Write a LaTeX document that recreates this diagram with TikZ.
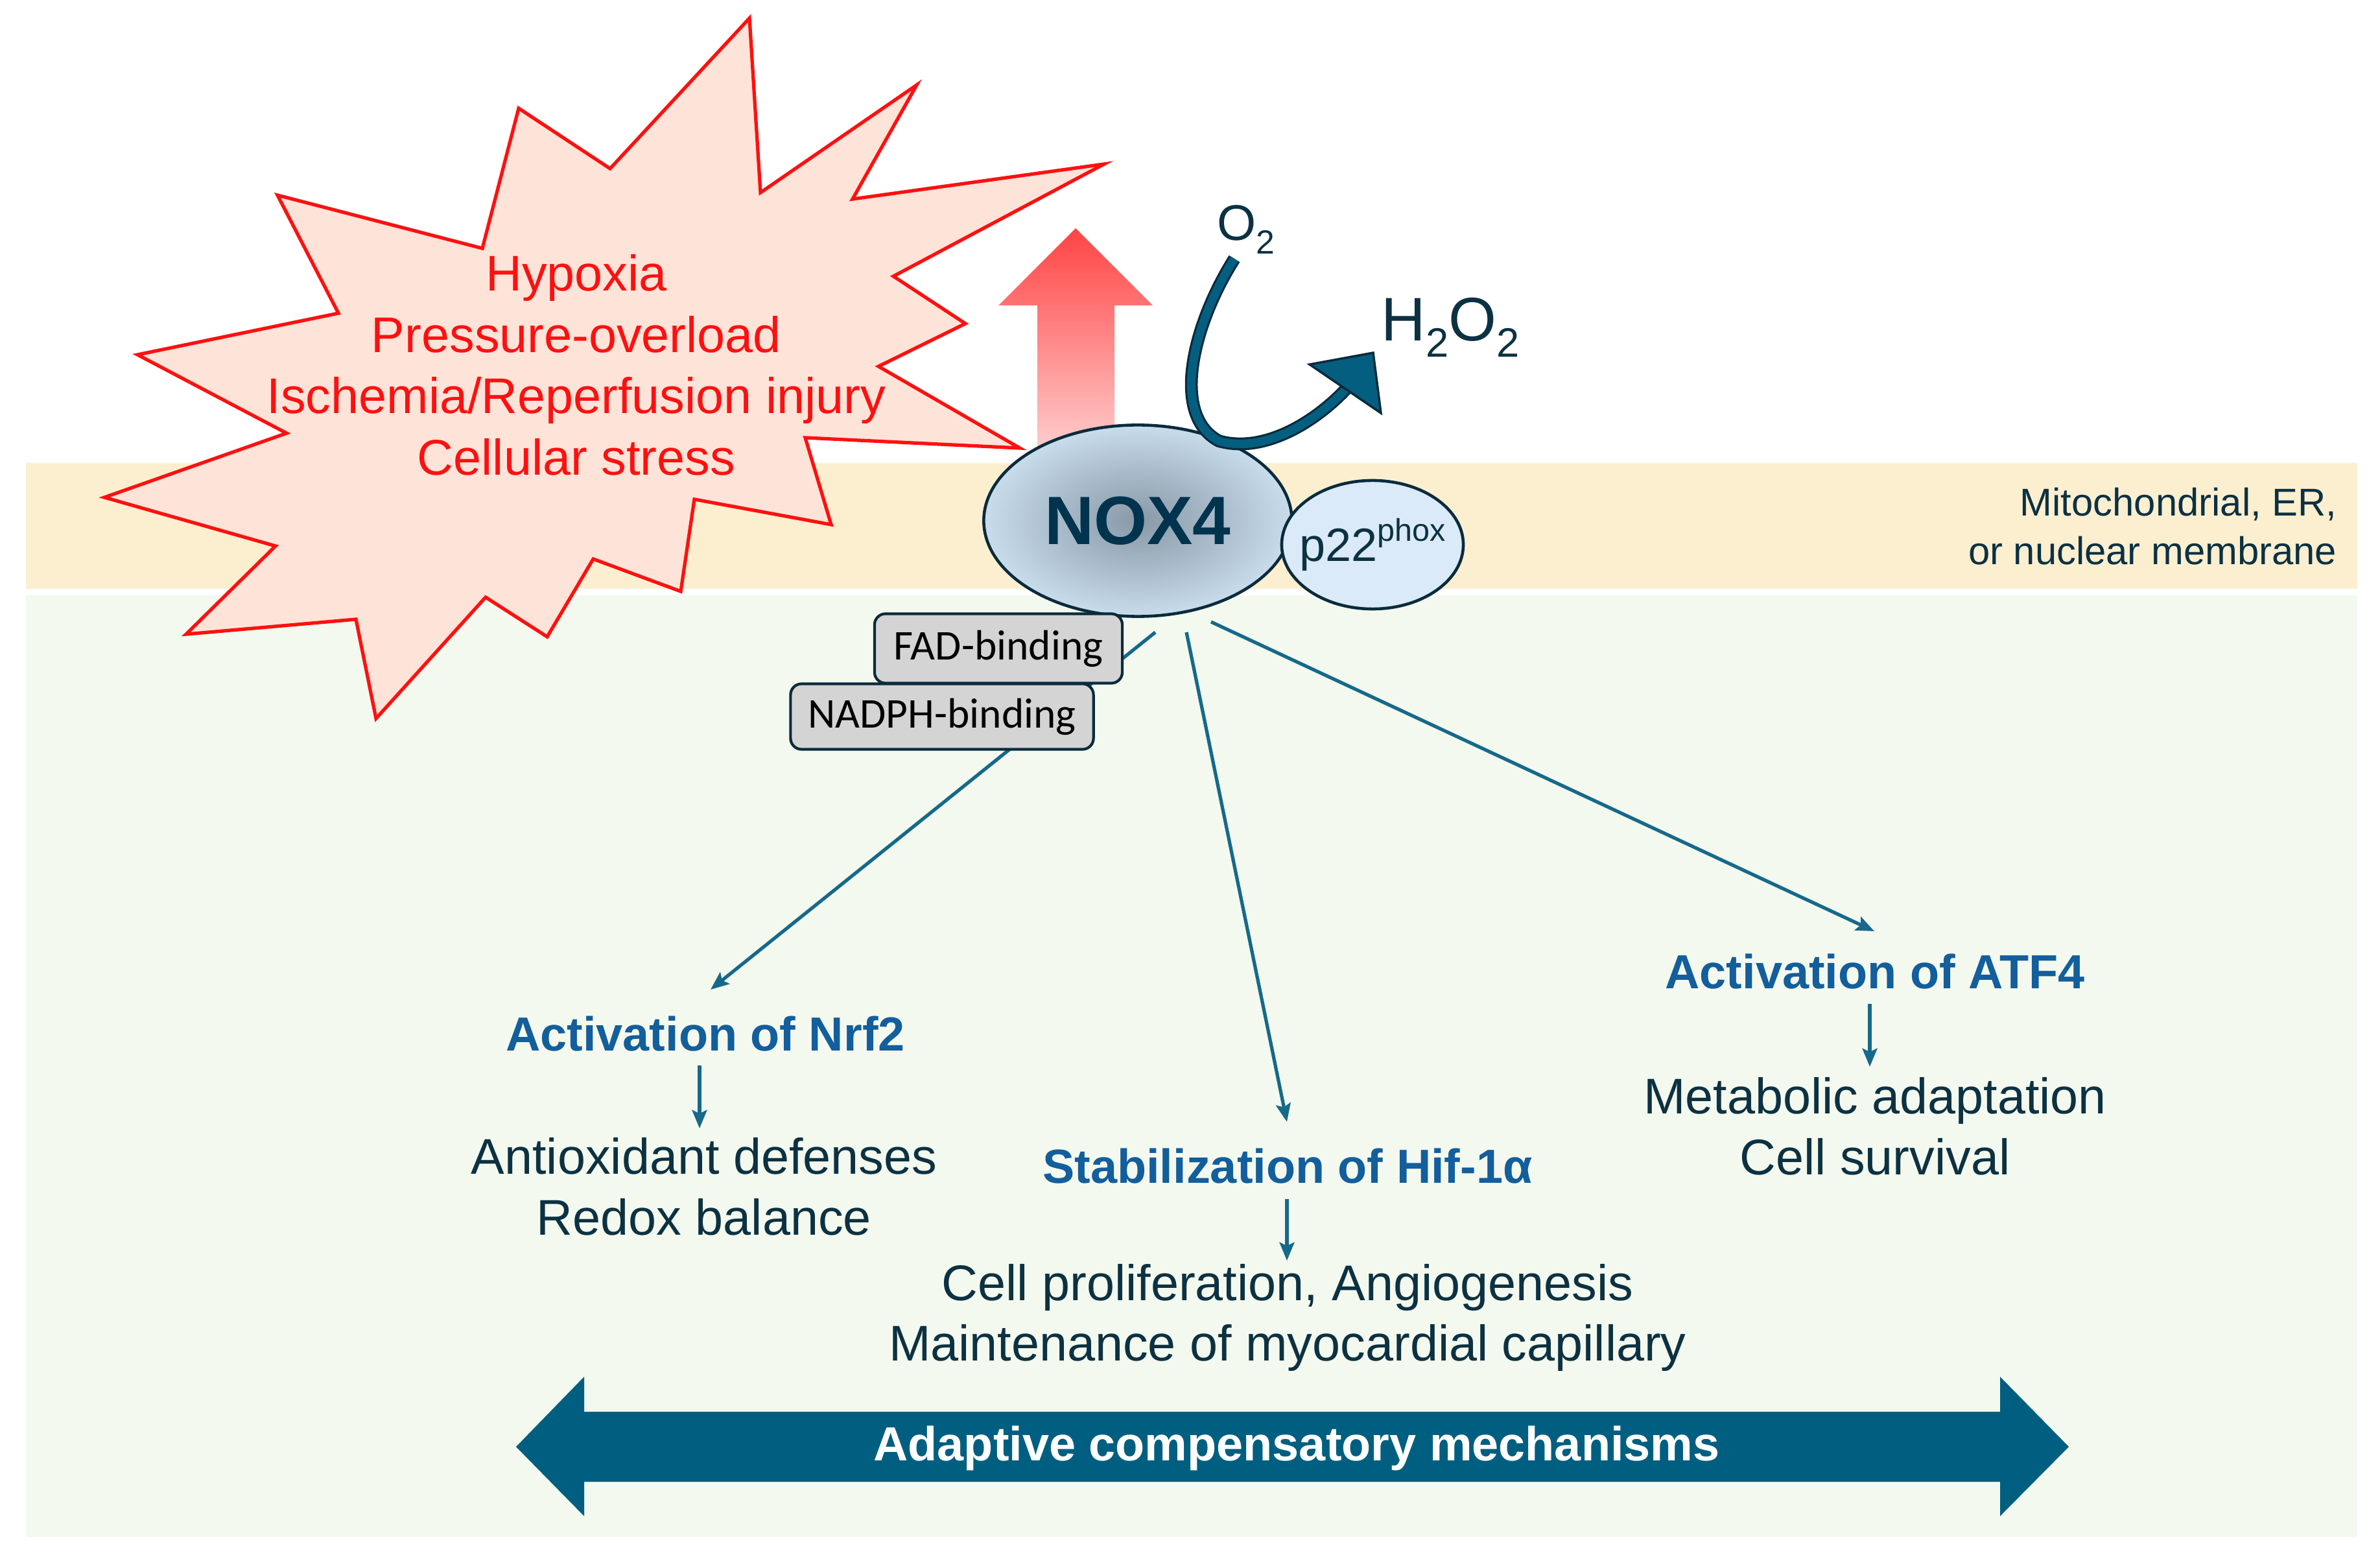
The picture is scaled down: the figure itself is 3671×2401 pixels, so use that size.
\documentclass[tikz,border=0pt]{standalone}
\usepackage{fontspec}
\setmainfont{Liberation Sans}
\newfontfamily\calib{Carlito}
\usetikzlibrary{shapes.geometric,arrows.meta}
\definecolor{beige}{HTML}{FCEFD0}
\definecolor{lgreen}{HTML}{F3F9EE}
\definecolor{starfill}{HTML}{FEE3D8}
\definecolor{starline}{HTML}{FF1010}
\definecolor{tealline}{HTML}{16698A}
\definecolor{bluetxt}{HTML}{135E9C}
\definecolor{darktxt}{HTML}{0C3142}
\definecolor{navy}{HTML}{0A2B3C}
\definecolor{bigarrow}{HTML}{005F80}
\definecolor{o2teal}{HTML}{045E80}
\definecolor{noxtxt}{HTML}{00334D}
\definecolor{noxin}{HTML}{8898A6}
\definecolor{noxout}{HTML}{C8DCEC}
\definecolor{p22fill}{HTML}{DAEAF8}
\definecolor{boxfill}{HTML}{D4D4D4}
\pgfdeclareverticalshading{redgrad}{100bp}{rgb(0bp)=(1,0.97,0.97); rgb(15bp)=(1,0.9,0.9); rgb(100bp)=(1,0,0)}
\begin{document}
\begin{tikzpicture}[x=0.01cm,y=-0.01cm,
  conn/.style={tealline, line width=1.5pt, -{Stealth[length=8pt,width=6.5pt,inset=1.5pt]}},
  redtxt/.style={text=starline, align=center, inner sep=0, font=\fontsize{22}{26.9}\selectfont},
  bluelab/.style={text=bluetxt, inner sep=0, font=\fontsize{21}{25}\selectfont\bfseries},
  darklab/.style={text=darktxt, align=center, inner sep=0, font=\fontsize{22}{26.7}\selectfont},
  dombox/.style={draw=navy, line width=1.2pt, fill=boxfill, rounded corners=0.17cm, inner sep=0,
    font=\calib\fontsize{18.6}{22}\selectfont, text=black}]
\useasboundingbox (0,0) rectangle (3671,2401);
\fill[white] (0,0) rectangle (3671,2401);
% membrane and cytosol bands
\fill[beige] (40,714) rectangle (3636,908);
\fill[lgreen] (40,918) rectangle (3636,2370);
% stress starburst
\draw[starline, line width=1.5pt, fill=starfill, line join=miter]
  (1156,28) -- (1173,297) -- (1414,131) -- (1315,307) -- (1703,253) -- (1378,426)
  -- (1489,499) -- (1355,565) -- (1573,691) -- (1242,675) -- (1282,809) -- (1071,770)
  -- (1050,912) -- (915,862) -- (844,982) -- (749,921) -- (580,1108) -- (549,955)
  -- (287,978) -- (425,842) -- (161,767) -- (442,668) -- (212,547) -- (522,483)
  -- (428,301) -- (744,383) -- (800,167) -- (941,260) -- cycle;
\node[redtxt] (stress) at (889,563) {Hypoxia\\Pressure-overload\\Ischemia/Reperfusion injury\\Cellular stress};
% red upward arrow
\shade[shading=redgrad] (1600,690) -- (1600,471) -- (1540,471) -- (1659,352) -- (1778,471) -- (1719,471) -- (1719,690) -- cycle;
% connectors from NOX4
\coordinate (s1) at (1782,975);
\coordinate (s2) at (1830,975);
\coordinate (s3) at (1868,959);
\coordinate (e1) at (1096,1526);
\coordinate (e2) at (1985,1730);
\coordinate (e3) at (2891,1436);
\draw[conn] (s1) -- (e1);
\draw[conn] (s2) -- (e2);
\draw[conn] (s3) -- (e3);
% NOX4 and p22phox
\node[ellipse, draw=navy, line width=1.3pt, inner color=noxin, outer color=noxout,
  minimum width=4.75cm, minimum height=2.95cm, inner sep=0,
  font=\fontsize{30}{36}\selectfont\bfseries, text=noxtxt] (nox) at (1755,803) {\makebox[0pt]{NOX4}};
\node[ellipse, draw=navy, line width=1.3pt, fill=p22fill,
  minimum width=2.8cm, minimum height=1.98cm, inner sep=0,
  font=\fontsize{20.5}{24}\selectfont, text=darktxt] (p22) at (2117,840)
  {\makebox[0pt]{p22\raisebox{0.42em}{\fontsize{13.8}{16}\selectfont phox}}};
% binding domains
\node[dombox, minimum width=3.82cm, minimum height=1.07cm] (fad) at (1540,1000) {FAD-binding};
\node[dombox, minimum width=4.67cm, minimum height=1.01cm] (nadph) at (1453,1105) {NADPH-binding};
% O2 -> H2O2 arrow
\coordinate (o2s) at (1904,399);
\coordinate (o2e) at (2078,598);
\draw[navy, line width=5.6pt] (o2s) .. controls (1840,500) and (1805,640) .. (1880,680) .. controls (1950,700) and (2030,650) .. (o2e);
\draw[o2teal, line width=3.8pt] (o2s) .. controls (1840,500) and (1805,640) .. (1880,680) .. controls (1950,700) and (2030,650) .. (o2e);
\filldraw[fill=o2teal, draw=navy, line width=1pt, line join=miter] (2020,562) -- (2118,544) -- (2130,637) -- cycle;
\node[anchor=base west, inner sep=0, text=darktxt, font=\fontsize{22}{26}\selectfont] (o2) at (1877,371)
  {O\raisebox{-0.26em}{\fontsize{14.7}{16}\selectfont 2}};
\node[anchor=base west, inner sep=0, text=darktxt, font=\fontsize{27}{32}\selectfont] (h2o2) at (2130,526)
  {H\raisebox{-0.26em}{\fontsize{18}{20}\selectfont 2}O\raisebox{-0.26em}{\fontsize{18}{20}\selectfont 2}};
% membrane label
\node[anchor=east, align=right, inner sep=0, text=darktxt, font=\fontsize{17}{21.3}\selectfont] (mem) at (3605,812)
  {Mitochondrial, ER,\\or nuclear membrane};
% pathway labels
\node[bluelab] (nrf2) at (1088,1594) {Activation of Nrf2};
\node[darklab] (nrf2out) at (1086,1830) {Antioxidant defenses\\Redox balance};
\node[bluelab] (hif) at (1986,1798) {Stabilization of Hif-1α};
\node[darklab] (hifout) at (1986,2032) {Cell proliferation, Angiogenesis\\Maintenance of myocardial capillary};
\node[bluelab] (atf4) at (2892,1498) {Activation of ATF4};
\node[darklab] (atf4out) at (2892,1737) {Metabolic adaptation\\Cell survival};
\coordinate (a1s) at (1079,1643); \coordinate (a1e) at (1079,1740);
\coordinate (a2s) at (1985,1849); \coordinate (a2e) at (1985,1944);
\coordinate (a3s) at (2884,1548); \coordinate (a3e) at (2884,1645);
\draw[conn] (a1s) -- (a1e);
\draw[conn] (a2s) -- (a2e);
\draw[conn] (a3s) -- (a3e);
% adaptive double arrow
\fill[bigarrow] (796,2231) -- (901,2123) -- (901,2177) -- (3085,2177) -- (3085,2123) -- (3191,2231)
  -- (3085,2338) -- (3085,2285) -- (901,2285) -- (901,2338) -- cycle;
\node[text=white, inner sep=0, font=\fontsize{21}{25}\selectfont\bfseries] (adapt) at (2000,2233) {Adaptive compensatory mechanisms};
\end{tikzpicture}
\end{document}
